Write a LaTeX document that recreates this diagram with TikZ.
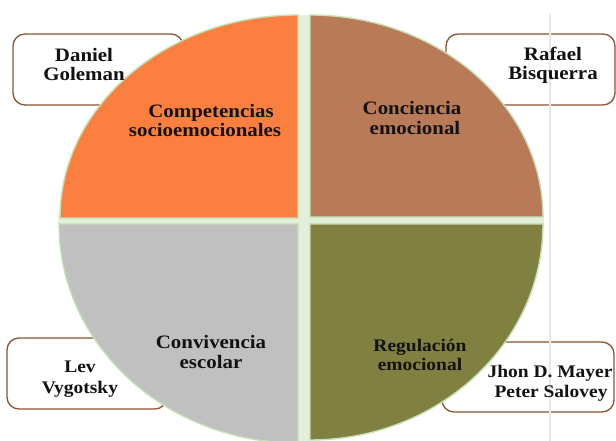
\documentclass[tikz,border=0pt]{standalone}
\usepackage{fontspec}
\setmainfont{Liberation Serif}[FakeStretch=1.1]
\definecolor{qorange}{RGB}{251,128,64}
\definecolor{qbrown}{RGB}{185,122,87}
\definecolor{qgray}{RGB}{192,192,192}
\definecolor{qolive}{RGB}{128,128,64}
\definecolor{qedge}{RGB}{197,224,180}
\definecolor{qgap}{RGB}{226,239,217}
\definecolor{boxedge}{RGB}{140,84,48}
\definecolor{faint}{RGB}{232,232,232}
\tikzset{
  quad/.style={draw=qedge, line width=1.4pt},
  authorbox/.style={draw=boxedge, fill=white, line width=1.3pt, rounded corners=12pt},
  big/.style={font=\fontsize{19}{20}\selectfont\bfseries, text=black!93, inner sep=0pt, anchor=base},
  small/.style={font=\fontsize{17.7}{19}\selectfont\bfseries, text=black!93, inner sep=0pt, anchor=base},
}
\begin{document}
\begin{tikzpicture}[x=1pt,y=1pt]
\useasboundingbox (0,0) rectangle (616,441);
\fill[white] (0,0) rectangle (616,441);
% author boxes (behind the pie)
\draw[authorbox] (13,336) rectangle (183,407);
\draw[authorbox] (446,336) rectangle (615,407);
\draw[authorbox] (7,32) rectangle (167,103);
\draw[authorbox] (442,29) rectangle (614,99);
% gaps between quadrants
\fill[qgap] (297,-2) rectangle (311,426);
\fill[qgap] (58,216) rectangle (544,225);
% quadrants
\draw[quad, fill=qorange] (298,223) -- (60,223) arc[start angle=180, end angle=90, x radius=238pt, y radius=203pt] -- cycle;
\draw[quad, fill=qbrown] (310,224) -- (310,426) arc[start angle=90, end angle=0, x radius=233pt, y radius=202pt] -- cycle;
\draw[quad, fill=qgray] (298,217) -- (59,217) arc[start angle=180, end angle=270, x radius=239pt, y radius=219pt] -- cycle;
\draw[quad, fill=qolive] (310,217) -- (543,217) arc[start angle=0, end angle=-90, x radius=233pt, y radius=216pt] -- cycle;
% faint vertical line
\draw[faint, line width=1.5pt] (550,0) -- (550,427);
% texts
\node[big] (t1) at (84,379) {Daniel};
\node[big] (t2) at (84,360) {Goleman};
\node[big] (t3) at (211,323) {Competencias};
\node[big] (t4) at (205,304) {socioemocionales};
\node[big] (t5) at (553,380) {Rafael};
\node[big] (t6) at (553,361) {Bisquerra};
\node[big] (t7) at (412,326) {Conciencia};
\node[big] (t8) at (415,306) {emocional};
\node[small] (t9) at (80,68) {Lev};
\node[small] (t10) at (80,47) {Vygotsky};
\node[big] (t11) at (211,92) {Convivencia};
\node[big] (t12) at (211,72) {escolar};
\node[small] (t13) at (420,89) {Regulación};
\node[small] (t14) at (420,70) {emocional};
\node[small] (t15) at (550,63) {Jhon D. Mayer};
\node[small] (t16) at (551,43) {Peter Salovey};
\end{tikzpicture}
\end{document}
